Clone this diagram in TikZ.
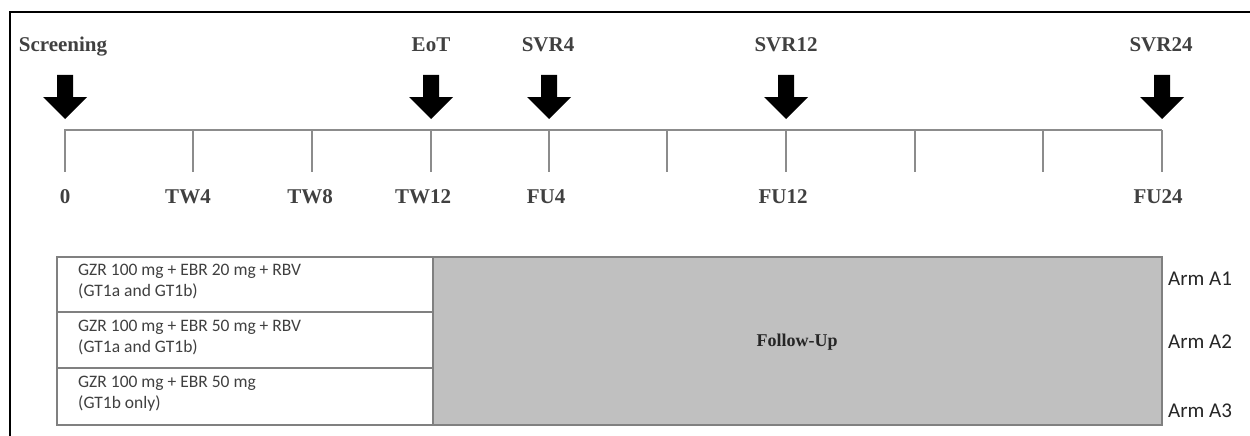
\documentclass[tikz,border=0pt]{standalone}
\usepackage{fontspec}
\setmainfont{Liberation Serif}
\newfontfamily\calfont{Carlito}
\definecolor{axisgray}{HTML}{8C8C8C}
\definecolor{labgray}{HTML}{404040}
\definecolor{fugray}{HTML}{C0C0C0}
\definecolor{boxline}{HTML}{808080}
\begin{document}
\begin{tikzpicture}[x=1pt,y=-1pt,
  toplab/.style={font=\bfseries\fontsize{21}{24}\selectfont, text=labgray, inner sep=0pt, anchor=base},
  botlab/.style={font=\bfseries\fontsize{21}{24}\selectfont, text=labgray, inner sep=0pt, anchor=base},
  rowtext/.style={font=\calfont\fontsize{17.5}{21}\selectfont, text=labgray, align=left, anchor=north west, inner sep=0pt},
  armlab/.style={font=\calfont\fontsize{21}{24}\selectfont, text=black!85, anchor=base west, inner sep=0pt},
  axisline/.style={draw=axisgray, line width=2.5pt},
  tickline/.style={draw=axisgray, line width=1.6pt},
  bigarrow/.style={fill=black},
  rowbox/.style={draw=boxline, line width=1.6pt, fill=white},
  fubox/.style={draw=boxline, line width=1.6pt, fill=fugray}]
\useasboundingbox (0,0) rectangle (1250,436);
% frame
\draw[line width=1.5pt] (10,436) -- (10,12) -- (1250,12);
% timeline
\coordinate (tl0) at (64,130);
\coordinate (tlend) at (1162,130);
\draw[axisline] (tl0) -- (tlend);
\foreach \x/\n in {65/t0,193/t1,312/t2,431/t3,549/t4,667/t5,786/t6,915/t7,1043/t8,1162/t9}{
  \coordinate (\n a) at (\x,130);
  \coordinate (\n b) at (\x,172);
  \draw[tickline] (\n a) -- (\n b);
}
% bottom labels
\node[botlab] (l0) at (65,203) {0};
\node[botlab] (l1) at (188,203) {TW4};
\node[botlab] (l2) at (310,203) {TW8};
\node[botlab] (l3) at (423,203) {TW12};
\node[botlab] (l4) at (546,203) {FU4};
\node[botlab] (l6) at (783,203) {FU12};
\node[botlab] (l9) at (1158,203) {FU24};
% top labels
\node[toplab] (s0) at (63,52) {Screening};
\node[toplab] (s3) at (431,52) {EoT};
\node[toplab] (s4) at (548,52) {SVR4};
\node[toplab] (s6) at (786,52) {SVR12};
\node[toplab] (s9) at (1161,52) {SVR24};
% arrows
\foreach \c in {65,431,549,786,1162}{
  \fill[bigarrow] (\c-8,75) -- (\c+8,75) -- (\c+8,97) -- (\c+22,97) -- (\c,119) -- (\c-22,97) -- (\c-8,97) -- cycle;
}
% arm boxes
\draw[fubox] (433,257) rectangle (1162,425);
\draw[rowbox] (57,257) rectangle (433,312);
\draw[rowbox] (57,312) rectangle (433,368);
\draw[rowbox] (57,368) rectangle (433,425);
\node[rowtext] (a1) at (78,264) {GZR 100 mg + EBR 20 mg + RBV\\(GT1a and GT1b)};
\node[rowtext] (a2) at (78,320) {GZR 100 mg + EBR 50 mg + RBV\\(GT1a and GT1b)};
\node[rowtext] (a3) at (78,376) {GZR 100 mg + EBR 50 mg\\(GT1b only)};
\node[font=\bfseries\fontsize{18}{20}\selectfont, text=black!85] (fu) at (797,342) {Follow-Up};
\node[armlab] (arm1) at (1168,285) {Arm A1};
\node[armlab] (arm2) at (1168,348) {Arm A2};
\node[armlab] (arm3) at (1168,417) {Arm A3};
\end{tikzpicture}
\end{document}
